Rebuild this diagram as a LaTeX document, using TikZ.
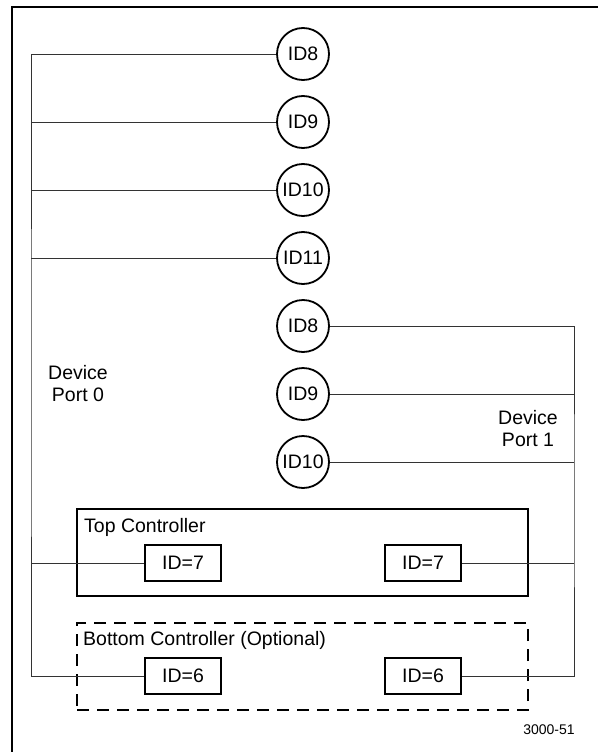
\documentclass[tikz,border=0pt]{standalone}
\usepackage{fontspec}
\setmainfont{Liberation Sans}
\usetikzlibrary{positioning}
\tikzset{%
	dev/.style={draw, circle, minimum size=52pt, inner sep=0pt, line width=1.8pt,%
		font=\fontsize{19.5}{22}\selectfont},
	tgt/.style={draw, rectangle, minimum width=76pt, minimum height=36pt, inner sep=0pt,%
		line width=2.2pt, font=\fontsize{19.5}{22}\selectfont},
	ctrl/.style={draw, rectangle, minimum width=451pt, minimum height=87pt, inner sep=0pt, line width=2.2pt},
	optctrl/.style={ctrl, dash pattern=on 12pt off 8pt},
	wire/.style={line width=0.8pt, black!80},
	frame/.style={line width=2.4pt},
	lbl/.style={inner sep=0pt, anchor=base west, font=\fontsize{19.5}{22}\selectfont},
	port/.style={inner sep=0pt, align=center, font=\fontsize{19.5}{22}\selectfont}
}
\begin{document}
\begin{tikzpicture}[x=1pt, y=-1pt, node distance=14.2pt]
	\useasboundingbox (0,0) rectangle (597,752);
	\draw [frame] (12,760) -- (12,7) -- (605,7);

	% devices on port 0
	\node[dev] (a8) at (303,54) {ID8};
	\node[dev] (a9) [below=of a8] {ID9};
	\node[dev] (a10) [below=of a9] {ID10};
	\node[dev] (a11) [below=of a10] {ID11};
	% devices on port 1
	\node[dev] (b8) [below=of a11] {ID8};
	\node[dev] (b9) [below=of b8] {ID9};
	\node[dev] (b10) [below=of b9] {ID10};

	\node[ctrl] (top) at (302.5,552.5) {};
	\node[optctrl] (bot) at (302.5,666.5) {};
	\node[lbl] (top-l) at (84,532) {Top Controller};
	\node[lbl] (bot-l) at (83,645) {Bottom Controller (Optional)};
	\node[tgt] (c7l) at (183,563) {ID=7};
	\node[tgt] (c7r) at (423,563) {ID=7};
	\node[tgt] (c6l) at (183,676) {ID=6};
	\node[tgt] (c6r) at (423,676) {ID=6};

	\coordinate (bus0) at (31,400);
	\coordinate (bus1) at (574,500);
	\node[port] (p0) at (78,384) {Device\\Port 0};
	\node[port] (p1) at (528,429) {Device\\Port 1};

	\draw [wire] (a8.west) -| (bus0) |- (c6l.west);
	\draw [wire] (a9.west) -- (a9.west -| bus0);
	\draw [wire] (a10.west) -- (a10.west -| bus0);
	\draw [wire] (a11.west) -- (a11.west -| bus0);
	\draw [wire] (c7l.west) -- (c7l.west -| bus0);

	\draw [wire] (b8.east) -| (bus1) |- (c6r.east);
	\draw [wire] (b9.east) -- (b9.east -| bus1);
	\draw [wire] (b10.east) -- (b10.east -| bus1);
	\draw [wire] (c7r.east) -- (c7r.east -| bus1);

	\node[inner sep=0pt, font=\fontsize{14}{16}\selectfont] (fig) at (549,730) {3000-51};
\end{tikzpicture}
\end{document}
